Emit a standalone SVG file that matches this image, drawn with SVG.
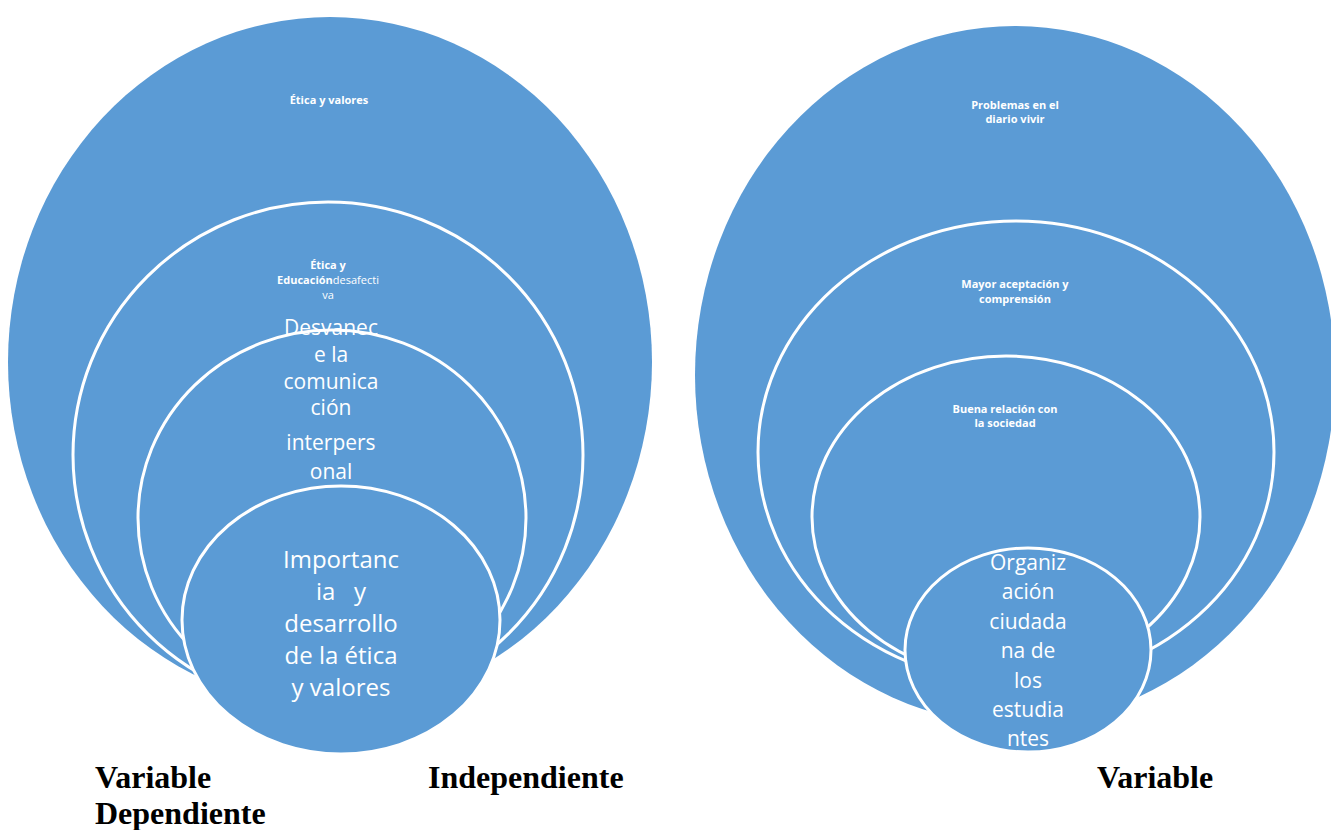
<svg xmlns="http://www.w3.org/2000/svg" width="1331" height="830" viewBox="0 0 1331 830">
<style>
.bub{fill:#5B9BD5;stroke:#FFFFFF;stroke-width:3}
.big{fill:#5B9BD5;stroke:none}
.sm{font-family:"Open Sans","Liberation Sans",sans-serif;font-size:11px;fill:#FFFFFF;text-anchor:middle}
.b{font-weight:bold}
.lg{font-family:"Open Sans","Liberation Sans",sans-serif;font-size:21px;fill:#FFFFFF;text-anchor:middle}
.xl{font-family:"Open Sans","Liberation Sans",sans-serif;font-size:24px;fill:#FFFFFF;text-anchor:middle}
.lbl{font-family:"Liberation Serif","Times New Roman",serif;font-size:32px;font-weight:bold;fill:#000000}
</style>
<rect width="1331" height="830" fill="#FFFFFF"/>

<g id="left-outer">
<ellipse class="big" cx="330" cy="362" rx="322" ry="345"/>
<text class="sm b" x="329" y="104">Ética y valores</text>
</g>
<g id="left-second">
<ellipse class="bub" cx="328" cy="455" rx="255" ry="253"/>
<text class="sm b" x="328" y="269">Ética y</text>
<text class="sm" x="328" y="284"><tspan class="b">Educación</tspan>desafecti</text>
<text class="sm" x="328" y="299">va</text>
</g>
<g id="left-third">
<ellipse class="bub" cx="332" cy="518" rx="194" ry="188"/>
<text class="lg" x="331" y="335">Desvanec</text>
<text class="lg" x="331" y="362">e la</text>
<text class="lg" x="331" y="389">comunica</text>
<text class="lg" x="331" y="415">ción</text>
<text class="lg" x="331" y="450">interpers</text>
<text class="lg" x="331" y="479">onal</text>
</g>
<g id="left-inner">
<ellipse class="bub" cx="341" cy="620" rx="159" ry="134"/>
<text class="xl" x="341" y="568">Importanc</text>
<text class="xl" x="341" y="600" xml:space="preserve">ia   y</text>
<text class="xl" x="341" y="632">desarrollo</text>
<text class="xl" x="341" y="664">de la ética</text>
<text class="xl" x="341" y="696">y valores</text>
</g>

<g id="right-outer">
<ellipse class="big" cx="1015" cy="375" rx="320" ry="349"/>
<text class="sm b" x="1015" y="109">Problemas en el</text>
<text class="sm b" x="1015" y="123">diario vivir</text>
</g>
<g id="right-second">
<ellipse class="bub" cx="1016" cy="452" rx="258" ry="231"/>
<text class="sm b" x="1015" y="288">Mayor aceptación y</text>
<text class="sm b" x="1015" y="303">comprensión</text>
</g>
<g id="right-third">
<ellipse class="bub" cx="1006" cy="517" rx="194" ry="161"/>
<text class="sm b" x="1005" y="413">Buena relación con</text>
<text class="sm b" x="1005" y="427">la sociedad</text>
</g>
<g id="right-inner">
<ellipse class="bub" cx="1028" cy="650" rx="123" ry="102"/>
<text class="lg" x="1028" y="570">Organiz</text>
<text class="lg" x="1028" y="599">ación</text>
<text class="lg" x="1028" y="629">ciudada</text>
<text class="lg" x="1028" y="658">na de</text>
<text class="lg" x="1028" y="688">los</text>
<text class="lg" x="1028" y="717">estudia</text>
<text class="lg" x="1028" y="746">ntes</text>
</g>

<g id="labels">
<text class="lbl" x="95" y="788">Variable</text>
<text class="lbl" x="95" y="824">Dependiente</text>
<text class="lbl" x="428" y="788">Independiente</text>
<text class="lbl" x="1097" y="788">Variable</text>
</g>
</svg>
